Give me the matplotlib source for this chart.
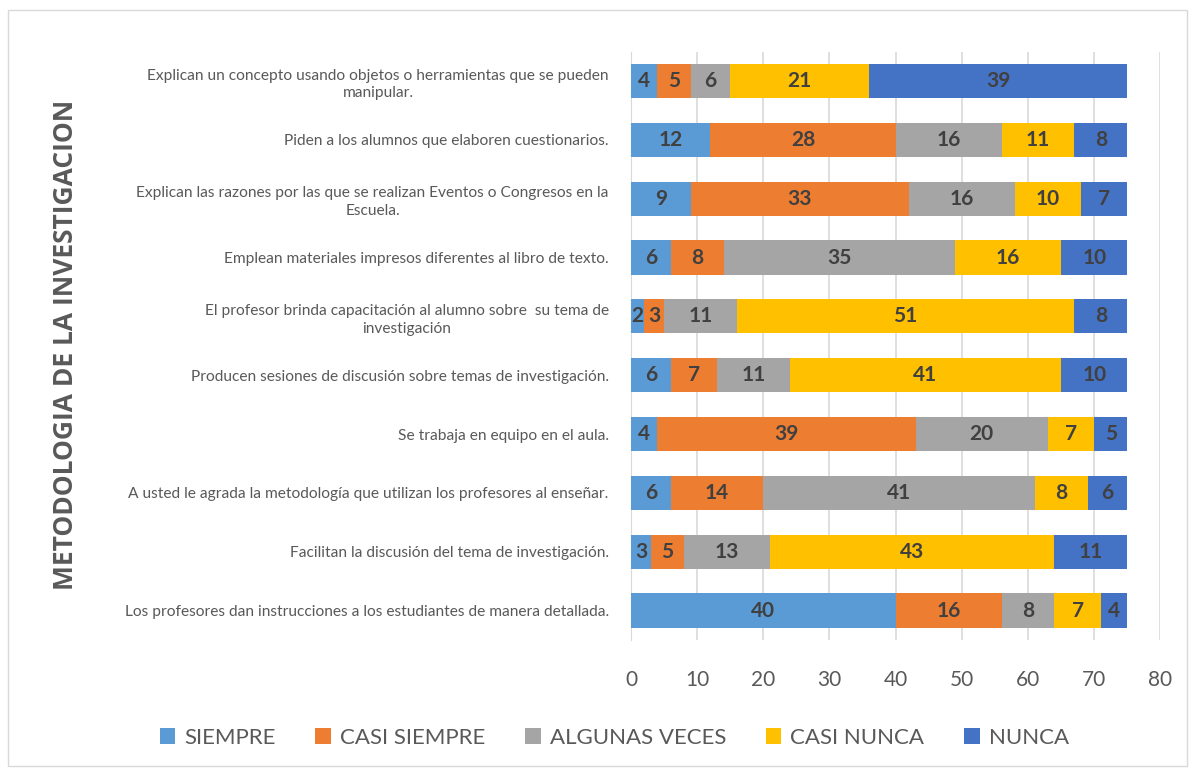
import matplotlib.pyplot as plt
import numpy as np
from matplotlib.patches import Rectangle

plt.rcParams['font.family'] = ['Lato', 'DejaVu Sans']

# Categories, top to bottom as in the chart
preguntas = [
    "Explican un concepto usando objetos o herramientas que se pueden\nmanipular.",
    "Piden a los alumnos que elaboren cuestionarios.",
    "Explican las razones por las que se realizan Eventos o Congresos en la\nEscuela.",
    "Emplean materiales impresos diferentes al libro de texto.",
    "El profesor brinda capacitación al alumno sobre  su tema de\ninvestigación",
    "Producen sesiones de discusión sobre temas de investigación.",
    "Se trabaja en equipo en el aula.",
    "A usted le agrada la metodología que utilizan los profesores al enseñar.",
    "Facilitan la discusión del tema de investigación.",
    "Los profesores dan instrucciones a los estudiantes de manera detallada.",
]

siempre = [4, 12, 9, 6, 2, 6, 4, 6, 3, 40]
casi_siempre = [5, 28, 33, 8, 3, 7, 39, 14, 5, 16]
algunas_veces = [6, 16, 16, 35, 11, 11, 20, 41, 13, 8]
casi_nunca = [21, 11, 10, 16, 51, 41, 7, 8, 43, 7]
nunca = [39, 8, 7, 10, 8, 10, 5, 6, 11, 4]

series = [
    ('SIEMPRE', siempre, '#5B9BD5'),
    ('CASI SIEMPRE', casi_siempre, '#ED7D31'),
    ('ALGUNAS VECES', algunas_veces, '#A5A5A5'),
    ('CASI NUNCA', casi_nunca, '#FFC000'),
    ('NUNCA', nunca, '#4472C4'),
]

fig = plt.figure(figsize=(11.95, 7.71), dpi=100)
ax = fig.add_axes([0.528, 0.170, 0.443, 0.763])

y = np.arange(len(preguntas))
left = np.zeros(len(preguntas))
for nombre, vals, color in series:
    bars = ax.barh(y, vals, left=left, height=0.58, color=color, label=nombre, zorder=3)
    ax.bar_label(bars, labels=[str(v) for v in vals], label_type='center',
                 fontsize=15, fontweight='bold', color='#404040')
    left += np.array(vals)

ax.set_xlim(0, 80)
ax.set_ylim(len(preguntas) - 0.5, -0.5)
ax.set_xticks(range(0, 81, 10))
ax.set_yticks(y)
ax.set_yticklabels(preguntas, fontsize=11.2, color='#595959', multialignment='center',
                   linespacing=1.35)
ax.tick_params(axis='y', length=0, pad=16)
ax.tick_params(axis='x', length=0, pad=22, labelsize=15, labelcolor='#595959')
ax.grid(axis='x', color='#D9D9D9', linewidth=1.2, zorder=0)
for s in ['top', 'right', 'bottom']:
    ax.spines[s].set_visible(False)
ax.spines['left'].set_color('#D9D9D9')

fig.text(0.055, 0.553, 'METODOLOGIA DE LA INVESTIGACION', rotation=90, ha='center', va='center',
         fontsize=19, fontweight='bold', color='#595959', family=['Open Sans', 'DejaVu Sans'])

fig.legend(loc='center', bbox_to_anchor=(0.514, 0.043), ncol=5, frameon=False,
           fontsize=16, labelcolor='#595959', handlelength=0.7, handleheight=0.7,
           columnspacing=1.8, handletextpad=0.4)

fig.patches.append(Rectangle((0.007, 0.007), 0.986, 0.98, transform=fig.transFigure,
                             fill=False, edgecolor='#D9D9D9', linewidth=1))

fig.savefig('out.png', dpi=100)
